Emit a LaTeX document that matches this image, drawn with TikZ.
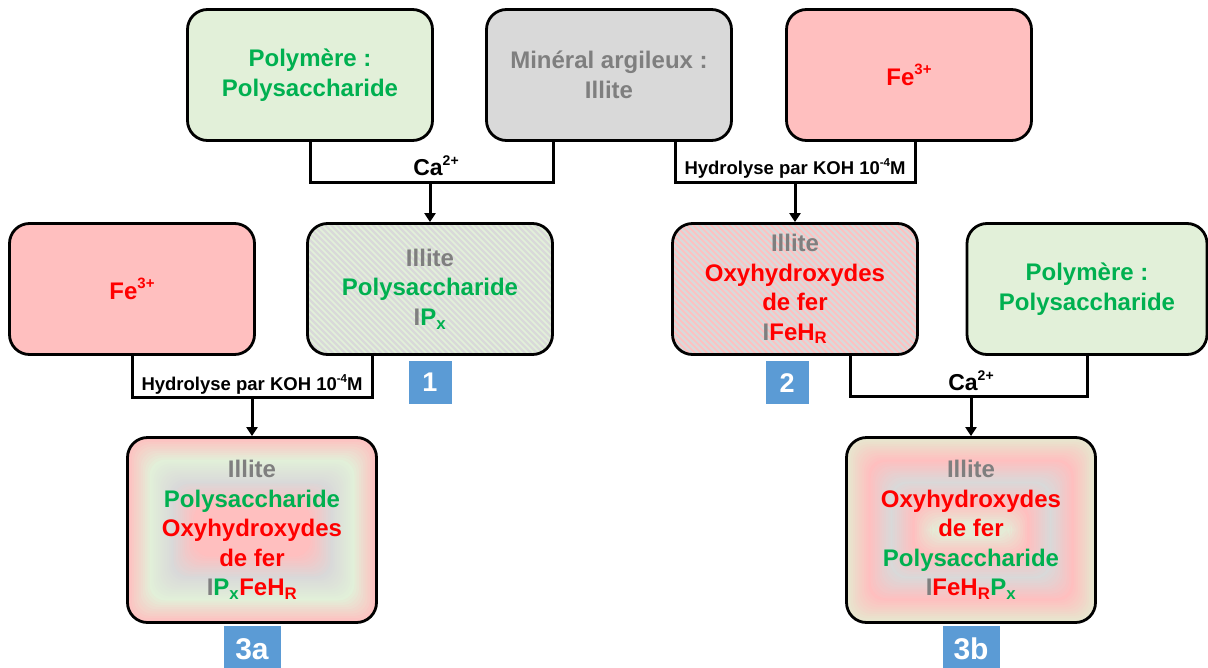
\documentclass[tikz,border=0pt]{standalone}
\usepackage{fontspec}
\setmainfont{Liberation Sans}
\usepackage{xcolor}
\usepackage{tikz}
\usetikzlibrary{positioning,arrows.meta,calc}

\definecolor{grnfill}{HTML}{E2F0D9}
\definecolor{grntxt}{HTML}{00B050}
\definecolor{redfill}{HTML}{FFBFBF}
\definecolor{redtxt}{HTML}{FF0000}
\definecolor{greyfill}{HTML}{D9D9D9}
\definecolor{greytxt}{HTML}{7F7F7F}
\definecolor{beige}{HTML}{E6E8CF}
\definecolor{tagblue}{HTML}{5B9BD5}

% small raised text: size, text
\newcommand{\up}[2]{\raisebox{0.45em}{\fontsize{#1}{#1}\selectfont #2}}

\begin{document}
\begin{tikzpicture}[x=1pt, y=-1pt,
	box/.style={draw, line width=2.8pt, rounded corners=20pt, minimum width=245pt, minimum height=131pt, align=center, font=\bfseries\fontsize{24}{29.5}\selectfont},
	bigbox/.style={box, minimum width=249pt, minimum height=185pt},
	stripes/.style 2 args={path picture={
		\fill[#1] (path picture bounding box.north west) rectangle (path picture bounding box.south east);
		\foreach \k in {0,...,72}
			\draw[#2, line width=2.4pt] ([xshift=\k*6pt-170pt]path picture bounding box.north west) -- ++(210,210);
	}},
	glow/.style n args={5}{path picture={
		\foreach \ca/\cb [count=\s from 0] in {#1/#2,#2/#3,#3/#4,#4/#5}
			\foreach \j in {0,...,9}{
				\pgfmathsetmacro\ins{(\s*10+\j)*2.2}
				\pgfmathtruncatemacro\pc{100-\j*10}
				\fill[\ca!\pc!\cb, rounded corners=16pt] ([shift={(\ins,\ins)}]path picture bounding box.north west) rectangle ([shift={(-\ins,-\ins)}]path picture bounding box.south east);
			}
	}},
	link/.style={line width=3pt},
	arrow/.style={line width=3pt, -{Triangle[width=11pt,length=9pt]}},
	kohlab/.style={font=\bfseries\fontsize{18.5}{20}\selectfont, inner sep=1pt},
	calab/.style={font=\bfseries\fontsize{23}{24}\selectfont, inner sep=1pt},
	tag/.style={fill=tagblue, text=white, font=\bfseries\fontsize{27}{27}\selectfont, minimum width=43pt, minimum height=43pt, inner sep=0pt}]
	\useasboundingbox (0,0) rectangle (1208,667);

	% top row
	\node[box, fill=grnfill, text=grntxt] (poly1) at (310,75) {Polymère :\\Polysaccharide};
	\node[box, fill=greyfill, text=greytxt] (mineral) at (609,75) {Minéral argileux :\\Illite};
	\node[box, fill=redfill, text=redtxt] (fe1) at (909,75) {Fe\up{15}{3+}};

	% middle row
	\node[box, fill=redfill, text=redtxt] (fe2) at (132,289) {Fe\up{15}{3+}};
	\node[box, stripes={grnfill}{greyfill}] (box1) at (430,289) {\textcolor{greytxt}{Illite}\\\textcolor{grntxt}{Polysaccharide}\\\textcolor{greytxt}{I}\textcolor{grntxt}{P\textsubscript{x}}};
	\node[box, stripes={redfill}{greyfill}] (box2) at (795,289) {\textcolor{greytxt}{Illite}\\\textcolor{redtxt}{Oxyhydroxydes}\\\textcolor{redtxt}{de fer}\\\textcolor{greytxt}{I}\textcolor{redtxt}{FeH\textsubscript{R}}};
	\node[box, fill=grnfill, text=grntxt, minimum width=240pt] (poly2) at (1087,289) {Polymère :\\Polysaccharide};
	\node[tag, below=5pt of box1] (tag1) {1};
	\node[tag, below=5pt of box2, xshift=-8pt] (tag2) {2};

	% bottom row
	\node[bigbox, glow={redfill}{grnfill}{greyfill}{redfill}{redfill}] (box3a) at (252,530) {\textcolor{greytxt}{Illite}\\\textcolor{grntxt}{Polysaccharide}\\\textcolor{redtxt}{Oxyhydroxydes}\\\textcolor{redtxt}{de fer}\\\textcolor{greytxt}{I}\textcolor{grntxt}{P\textsubscript{x}}\textcolor{redtxt}{FeH\textsubscript{R}}};
	\node[bigbox, glow={beige}{redfill}{greyfill}{redfill}{grnfill}] (box3b) at (971,530) {\textcolor{greytxt}{Illite}\\\textcolor{redtxt}{Oxyhydroxydes}\\\textcolor{redtxt}{de fer}\\\textcolor{grntxt}{Polysaccharide}\\\textcolor{greytxt}{I}\textcolor{redtxt}{FeH\textsubscript{R}}\textcolor{grntxt}{P\textsubscript{x}}};
	\node[tag, below=2pt of box3a, minimum width=57pt, minimum height=46pt, font=\bfseries\fontsize{30}{30}\selectfont] (tag3a) {3a};
	\node[tag, below=2pt of box3b, minimum width=57pt, minimum height=46pt, font=\bfseries\fontsize{30}{30}\selectfont] (tag3b) {3b};

	% junctions
	\coordinate (j1) at (box1.north |- 0,182);
	\coordinate (j2) at (box2.north |- 0,182);
	\coordinate (j3) at (box3a.north |- 0,397);
	\coordinate (j4) at (box3b.north |- 0,396);

	% connectors
	\draw[link] (poly1.south) |- (j1) -| ([xshift=-56pt]mineral.south);
	\draw[arrow] (j1) -- (box1.north);
	\node[calab, above=5pt of j1, xshift=6pt] {Ca\up{14}{2+}};

	\draw[link] ([xshift=66pt]mineral.south) |- (j2) -| ([xshift=6pt]fe1.south);
	\draw[arrow] (j2) -- (box2.north);
	\node[kohlab, above=2pt of j2] {Hydrolyse par KOH 10\up{11.5}{-4}M};

	\draw[link] (fe2.south) |- (j3) -| ([xshift=-58pt]box1.south);
	\draw[arrow] (j3) -- (box3a.north);
	\node[kohlab, above=1.5pt of j3] {Hydrolyse par KOH 10\up{11.5}{-4}M};

	\draw[link] ([xshift=55pt]box2.south) |- (j4) -| (poly2.south);
	\draw[arrow] (j4) -- (box3b.north);
	\node[calab, above=4pt of j4] {Ca\up{14}{2+}};
\end{tikzpicture}
\end{document}
